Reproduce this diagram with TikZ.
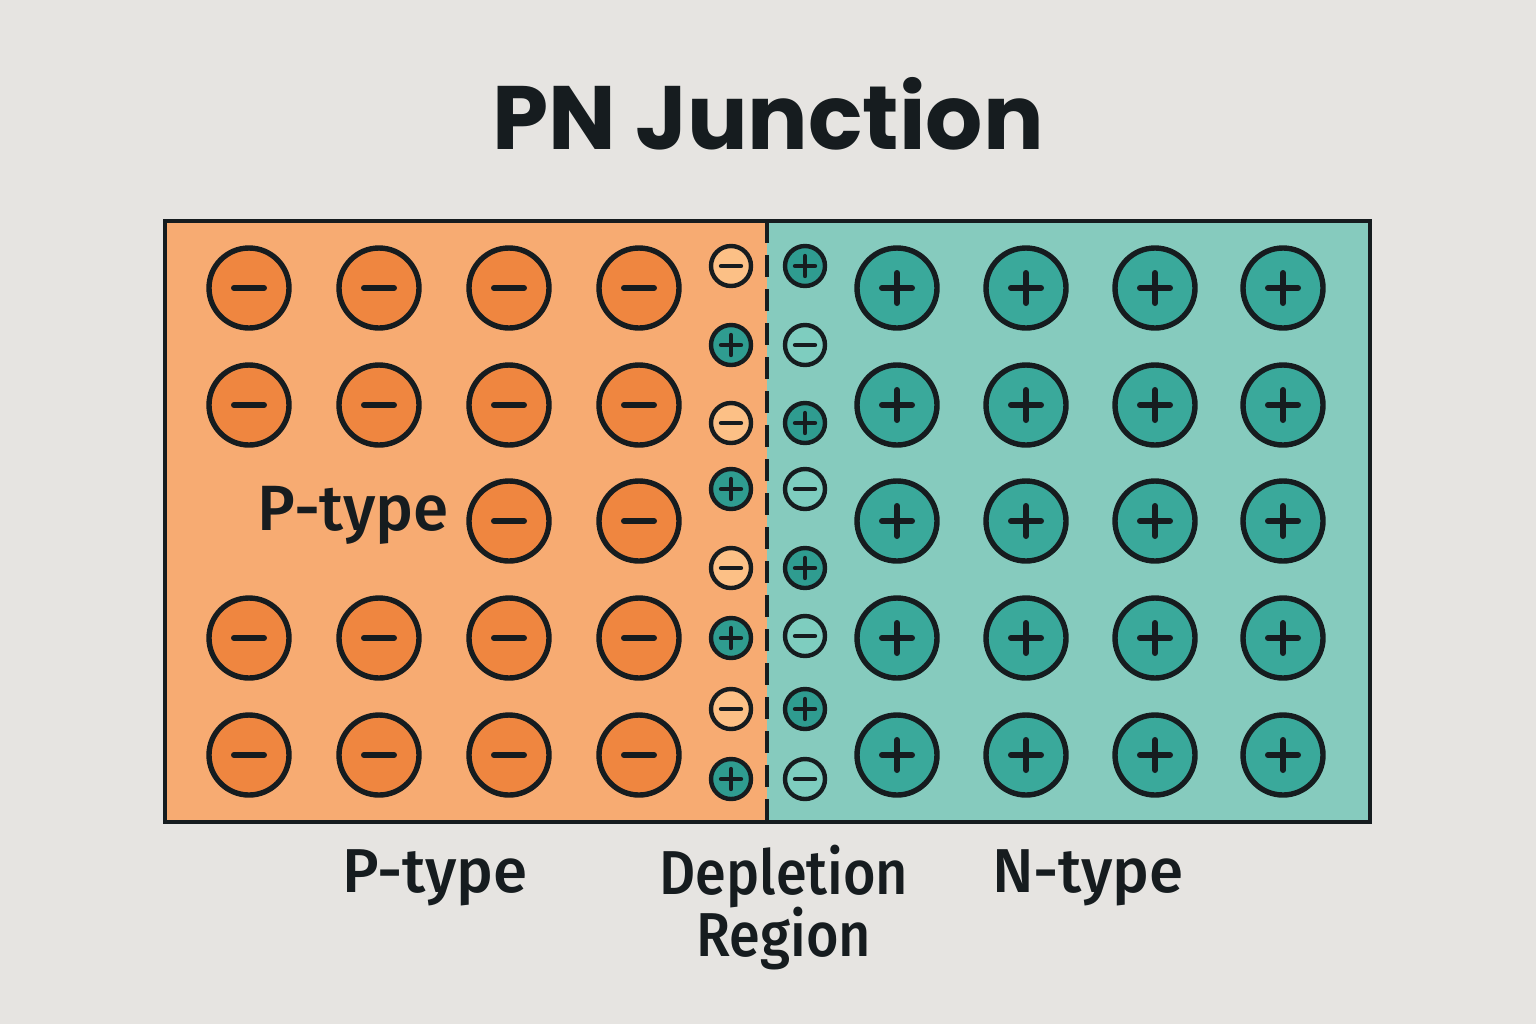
\documentclass[tikz,border=0pt]{standalone}
\usepackage{fontspec}
\usepackage{graphicx}
\newfontfamily\titlefont{Poppins}
\newfontfamily\labelfont{Fira Sans Medium}
\definecolor{bgc}{HTML}{E6E4E1}
\definecolor{pfill}{HTML}{F7AB72}
\definecolor{nfill}{HTML}{86CBBE}
\definecolor{orangeC}{HTML}{EF8640}
\definecolor{tealC}{HTML}{3AA99B}
\definecolor{lightneg}{HTML}{FCC086}
\definecolor{lighttealneg}{HTML}{7ECDBF}
\definecolor{smallplus}{HTML}{2F9C90}
\definecolor{ink}{HTML}{161C1F}
\tikzset{
  bigneg/.style={circle, draw=ink, line width=2.7pt, fill=orangeC, minimum size=40pt, inner sep=0pt},
  bigpos/.style={circle, draw=ink, line width=2.7pt, fill=tealC, minimum size=40pt, inner sep=0pt},
  smallnegP/.style={circle, draw=ink, line width=2.2pt, fill=lightneg, minimum size=20pt, inner sep=0pt},
  smallnegN/.style={circle, draw=ink, line width=2.2pt, fill=lighttealneg, minimum size=20pt, inner sep=0pt},
  smallpos/.style={circle, draw=ink, line width=2.2pt, fill=smallplus, minimum size=20pt, inner sep=0pt},
  bigsign/.style={draw=ink, line width=3pt, line cap=round},
  smallsign/.style={draw=ink, line width=2.2pt, line cap=round},
  lbl/.style={text=ink, font=\labelfont\fontsize{31}{35}\selectfont, inner sep=0pt},
}
\newcommand{\bigminus}[1]{\path[bigsign] (#1.center) ++(-15,0) -- ++(30,0);}
\newcommand{\bigplus}[1]{\path[bigsign] (#1.center) ++(-15,0) -- ++(30,0) (#1.center) ++(0,-15) -- ++(0,30);}
\newcommand{\smallminus}[1]{\path[smallsign] (#1.center) ++(-10,0) -- ++(20,0);}
\newcommand{\smallplussign}[1]{\path[smallsign] (#1.center) ++(-10,0) -- ++(20,0) (#1.center) ++(0,-10) -- ++(0,20);}
\newcommand{\narrow}[1]{\scalebox{0.9}[1]{#1}}
\begin{document}
\begin{tikzpicture}[x=0.5pt,y=-0.5pt]
\fill[bgc] (0,0) rectangle (1536,1024);
\useasboundingbox (0,0) rectangle (1536,1024);
% regions
\fill[pfill] (165,221) rectangle (767,822);
\fill[nfill] (767,221) rectangle (1370,822);
\coordinate (divtop) at (767,221);
\coordinate (divbot) at (767,822);
\draw[ink, line width=2pt, dash pattern=on 11pt off 6pt] (divtop) -- (divbot);
\node[draw=ink, line width=2pt, minimum width=602.5pt, minimum height=300.5pt, inner sep=0pt] (box) at (767.5,521.5) {};
% big circles
\foreach \r/\y in {1/288,2/405,3/521,4/638,5/755}{
  \foreach \c/\x in {1/249,2/379,3/509,4/639}{
    \ifnum\r=3
      \ifnum\c>2
        \node[bigneg] (p\r\c) at (\x,\y) {};
        \bigminus{p\r\c}
      \fi
    \else
      \node[bigneg] (p\r\c) at (\x,\y) {};
      \bigminus{p\r\c}
    \fi
  }
  \foreach \c/\x in {1/897,2/1026,3/1155,4/1283}{
    \node[bigpos] (n\r\c) at (\x,\y) {};
    \bigplus{n\r\c}
  }
}
% depletion region, left column
\foreach \i/\y in {1/266,3/423,5/568,7/709}{
  \node[smallnegP] (dl\i) at (731,\y) {};
  \smallminus{dl\i}
}
\foreach \i/\y in {2/345,4/489,6/638,8/779}{
  \node[smallpos] (dl\i) at (731,\y) {};
  \smallplussign{dl\i}
}
% depletion region, right column
\foreach \i/\y in {1/266,3/423,5/568,7/709}{
  \node[smallpos] (dr\i) at (805,\y) {};
  \smallplussign{dr\i}
}
\foreach \i/\y in {2/345,4/489,6/636,8/779}{
  \node[smallnegN] (dr\i) at (805,\y) {};
  \smallminus{dr\i}
}
% labels
\node[text=ink, inner sep=0pt, font=\titlefont\bfseries\fontsize{45}{50}\selectfont] (title) at (768,114) {PN Junction};
\node[lbl, font=\labelfont\fontsize{32}{36}\selectfont] (ptin) at (353,515) {P-type};
\node[lbl] (pt) at (435,878) {P-type};
\node[lbl, align=center] (dep) at (784,908) {\narrow{Depletion}\\[-4pt]\narrow{Region}};
\node[lbl] (nt) at (1088,878) {N-type};
\end{tikzpicture}
\end{document}
